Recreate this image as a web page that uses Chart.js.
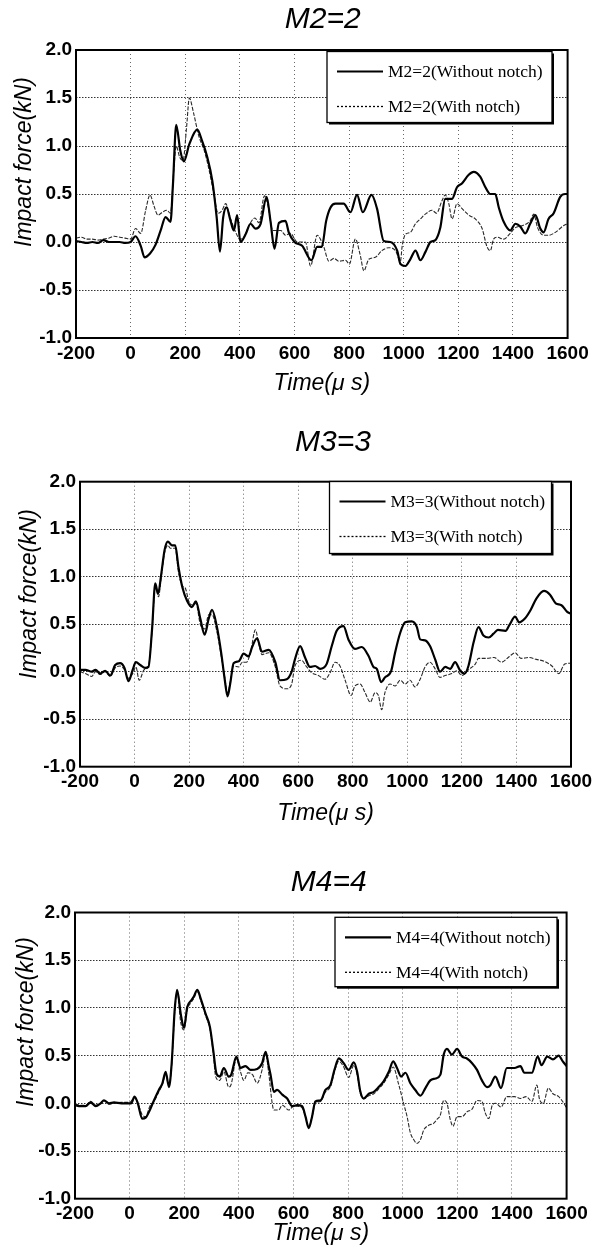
<!DOCTYPE html>
<html>
<head>
<meta charset="utf-8">
<script src="https://cdn.jsdelivr.net/npm/chart.js@4.4.1/dist/chart.umd.min.js"></script>
<style>
    html, body { margin: 0; padding: 0; background: #fff; }
    .panel { position: absolute; left: 0; width: 606px; }
</style>
</head>
<body>
<div class="panel" style="top:0;height:416px"><canvas id="chartM2"></canvas></div>
<div class="panel" style="top:416px;height:418px"><canvas id="chartM3"></canvas></div>
<div class="panel" style="top:834px;height:416px"><canvas id="chartM4"></canvas></div>
<script>
// axis ticks
const timeTicks = [-200, 0, 200, 400, 600, 800, 1000, 1200, 1400, 1600];
const forceTicks = [-1.0, -0.5, 0.0, 0.5, 1.0, 1.5, 2.0];

// M2=2
const m2WithoutTime = [-200,-180,-160,-140,-120,-100,-80,-60,-40,-20,0,18,37,51,71,91,110,128,146,155,167,182,195,215,244,262,280,299,315,327,339,351,366,378,390,402,421,439,457,476,498,512,527,543,567,579,600,628,662,683,700,716,732,750,780,805,829,850,882,902,927,951,976,988,1006,1024,1043,1061,1080,1098,1116,1134,1152,1177,1195,1213,1238,1256,1280,1299,1317,1335,1348,1366,1390,1409,1427,1445,1463,1482,1500,1512,1530,1549,1573,1591,1600];
const m2WithoutForce = [0.01,0.0,-0.01,0.0,-0.01,0.02,0.0,0.0,0.0,-0.01,0.0,0.06,-0.04,-0.16,-0.12,-0.03,0.12,0.26,0.21,0.6,1.22,0.95,0.84,1.02,1.17,1.05,0.89,0.64,0.26,-0.1,0.26,0.36,0.22,0.12,0.28,0.0,0.08,0.19,0.14,0.19,0.47,0.22,-0.07,0.2,0.22,0.1,0.0,-0.04,-0.19,-0.05,-0.05,0.22,0.36,0.4,0.4,0.31,0.49,0.31,0.49,0.35,0.01,0.0,-0.09,-0.23,-0.25,-0.18,-0.09,-0.19,-0.1,0.0,0.02,0.15,0.45,0.45,0.57,0.61,0.7,0.73,0.68,0.57,0.5,0.5,0.36,0.21,0.12,0.19,0.16,0.09,0.19,0.28,0.14,0.1,0.24,0.3,0.47,0.5,0.5];
const m2WithTime = [-200,-180,-160,-140,-120,-100,-80,-60,-40,-20,0,18,37,55,71,85,100,116,132,146,158,167,180,192,205,215,230,250,270,285,305,320,335,348,365,385,400,415,435,455,470,490,505,520,535,550,567,585,610,640,659,683,707,726,745,762,787,801,823,841,854,872,896,920,945,970,988,994,1006,1024,1043,1061,1079,1104,1120,1140,1152,1165,1177,1195,1213,1238,1262,1287,1305,1317,1329,1341,1366,1390,1409,1433,1463,1476,1490,1512,1530,1555,1585,1600];
const m2WithForce = [0.04,0.05,0.03,0.03,0.02,0.03,0.04,0.06,0.05,0.04,0.03,0.14,0.09,0.33,0.49,0.38,0.28,0.31,0.33,0.3,0.75,1.0,0.88,0.85,1.2,1.5,1.35,1.1,0.95,0.78,0.5,0.3,0.33,0.4,0.25,0.1,0.03,0.05,0.18,0.25,0.2,0.48,0.35,0.12,0.12,0.12,0.07,0.09,0.0,0.0,-0.25,0.07,-0.05,-0.2,-0.17,-0.2,-0.19,-0.23,0.03,-0.14,-0.3,-0.18,-0.16,-0.09,-0.06,-0.09,-0.2,-0.05,0.08,0.1,0.19,0.24,0.29,0.33,0.3,0.43,0.49,0.4,0.24,0.4,0.35,0.28,0.24,0.14,-0.05,-0.09,0.03,0.05,0.03,0.09,0.15,0.17,0.22,0.29,0.15,0.07,0.07,0.1,0.17,0.19];

// M3=3
const m3WithoutTime = [-200,-180,-157,-143,-126,-108,-89,-71,-53,-37,-22,-7,5,21,39,51,64,76,86,98,110,122,137,149,161,176,192,210,225,241,257,272,284,302,318,330,341,351,363,382,400,418,431,449,467,492,516,533,558,576,588,607,625,643,662,680,704,723,741,766,784,808,833,857,876,888,904,918,941,955,974,992,1016,1035,1047,1065,1083,1102,1120,1139,1157,1175,1194,1210,1224,1243,1261,1279,1298,1316,1332,1360,1374,1395,1410,1431,1452,1473,1501,1523,1544,1565,1586,1600];
const m3WithoutForce = [0.02,0.02,0,0.02,-0.02,0.01,-0.04,0.07,0.09,0.04,-0.1,0.02,0.1,0.07,0.04,0.05,0.44,0.93,0.82,1.03,1.28,1.37,1.33,1.33,1.1,0.88,0.75,0.68,0.74,0.56,0.39,0.56,0.65,0.47,0.19,-0.07,-0.26,-0.12,0.09,0.11,0.19,0.16,0.26,0.35,0.21,0.23,0.1,-0.09,-0.08,0,0.13,0.27,0.15,0.05,0.06,0.03,0.08,0.27,0.43,0.48,0.34,0.24,0.26,0.17,0.05,0.03,-0.11,-0.06,0.01,0.2,0.41,0.52,0.53,0.47,0.34,0.33,0.27,0.13,0,0.05,0.03,0.1,0.01,-0.02,0.06,0.31,0.47,0.38,0.36,0.4,0.44,0.43,0.49,0.58,0.52,0.56,0.65,0.77,0.85,0.81,0.72,0.7,0.63,0.61];
const m3WithTime = [-200,-180,-157,-143,-126,-108,-89,-71,-53,-37,-22,-7,5,17,35,51,64,76,88,98,110,122,131,149,161,176,186,200,215,225,241,257,272,284,302,318,330,341,351,363,382,395,410,425,443,455,467,492,516,533,558,576,588,612,631,649,674,698,717,735,753,772,794,808,827,845,864,882,894,906,918,937,955,974,992,1010,1028,1047,1065,1083,1102,1120,1139,1163,1181,1200,1224,1249,1261,1290,1318,1345,1374,1395,1417,1445,1473,1501,1530,1555,1577,1600];
const m3WithForce = [0.0,-0.02,-0.05,0.0,-0.03,0.0,-0.05,0.04,0.06,0.02,-0.07,-0.02,0.05,-0.09,0.02,0.06,0.42,0.9,0.79,1.0,1.25,1.33,1.3,1.3,1.05,0.9,0.88,0.73,0.7,0.72,0.5,0.45,0.6,0.6,0.42,0.16,-0.05,-0.23,-0.1,0.06,0.05,0.1,0.1,0.2,0.44,0.3,0.18,0.2,0.05,-0.15,-0.18,-0.13,0.06,0.12,0.05,-0.01,-0.04,-0.08,-0.01,0.1,0.06,-0.09,-0.25,-0.15,-0.13,-0.22,-0.32,-0.22,-0.25,-0.4,-0.22,-0.13,-0.15,-0.09,-0.13,-0.09,-0.16,-0.08,0.05,0.1,0.03,-0.06,-0.04,-0.02,0.01,-0.04,0.02,0.08,0.14,0.14,0.15,0.1,0.16,0.2,0.14,0.15,0.13,0.11,0.06,-0.02,0.08,0.09];

// M4=4
const m4WithoutTime = [-200,-180,-161,-143,-124,-106,-94,-75,-57,-30,0,6,18,30,46,59,71,89,107,120,132,144,154,165,174,187,199,211,226,235,248,260,278,294,306,318,330,345,363,372,391,406,424,443,467,485,498,510,516,528,540,559,577,595,613,632,644,656,668,680,699,717,735,750,766,784,802,821,833,845,857,876,894,912,930,949,965,979,994,1010,1028,1046,1065,1083,1101,1120,1138,1150,1162,1180,1199,1217,1235,1254,1272,1290,1309,1321,1339,1360,1381,1409,1431,1445,1473,1494,1508,1529,1550,1571,1586,1600];
const m4WithoutForce = [-0.02,-0.03,-0.03,0.01,-0.03,0.0,0.03,0.0,0.01,0.0,0.0,0.0,0.07,0.0,-0.16,-0.15,-0.09,0.03,0.14,0.21,0.33,0.17,0.42,0.98,1.19,0.94,0.79,1.01,1.08,1.12,1.19,1.1,0.94,0.8,0.56,0.31,0.28,0.37,0.28,0.3,0.49,0.37,0.39,0.35,0.36,0.42,0.54,0.38,0.3,0.12,0.14,0.09,0.05,-0.03,-0.02,-0.03,-0.14,-0.26,-0.14,0.02,0.03,0.14,0.19,0.35,0.47,0.42,0.35,0.43,0.33,0.12,0.05,0.1,0.12,0.17,0.23,0.33,0.44,0.37,0.28,0.32,0.21,0.14,0.08,0.16,0.24,0.26,0.3,0.51,0.57,0.51,0.57,0.49,0.47,0.42,0.35,0.24,0.17,0.19,0.28,0.16,0.37,0.37,0.39,0.32,0.32,0.49,0.4,0.49,0.46,0.5,0.44,0.39];
const m4WithTime = [-200,-180,-161,-143,-124,-106,-94,-75,-57,-30,0,18,30,46,59,74,89,107,120,132,144,154,165,174,187,199,211,226,235,248,260,278,294,306,315,330,345,363,372,391,406,418,433,450,467,485,498,510,522,528,546,559,583,600,613,632,644,656,668,680,699,717,735,750,766,784,802,821,833,845,857,876,894,912,930,949,965,985,1003,1016,1028,1040,1052,1065,1077,1095,1113,1125,1138,1150,1162,1174,1184,1199,1217,1235,1254,1272,1290,1302,1315,1328,1340,1360,1381,1409,1431,1452,1473,1491,1501,1515,1533,1550,1571,1590,1600];
const m4WithForce = [-0.01,-0.02,-0.02,0.02,-0.02,0.0,0.03,-0.01,0.0,0.01,0.01,0.06,0.0,-0.12,-0.14,-0.03,0.02,0.12,0.2,0.3,0.18,0.4,0.95,1.17,0.85,0.77,0.98,1.06,1.1,1.17,1.08,0.92,0.78,0.53,0.28,0.24,0.33,0.17,0.2,0.47,0.33,0.24,0.32,0.3,0.21,0.35,0.52,0.3,0.0,-0.07,-0.07,-0.02,-0.07,-0.03,-0.03,-0.05,-0.14,-0.25,-0.14,0.0,0.02,0.12,0.17,0.33,0.44,0.38,0.27,0.4,0.3,0.1,0.05,0.08,0.1,0.15,0.21,0.3,0.38,0.2,0.0,-0.14,-0.31,-0.38,-0.42,-0.38,-0.28,-0.23,-0.21,-0.17,-0.12,0.03,0.0,-0.17,-0.24,-0.14,-0.14,-0.09,-0.06,0.03,0.02,-0.1,-0.16,-0.02,0.0,-0.04,0.07,0.07,0.05,0.07,0.02,0.19,0.04,0.0,0.16,0.1,0.07,0.0,-0.05];

const toPoints = (times, forces) => times.map((t, i) => ({ x: t, y: forces[i] }));

// frame, title, y title and boxed legend
const panelPlugin = {
    id: 'panel',
    afterDraw(chart, args, opts) {
        const { ctx, chartArea: a } = chart;
        ctx.save();
        ctx.strokeStyle = '#000';
        ctx.lineWidth = 2;
        ctx.strokeRect(a.left, a.top, a.right - a.left, a.bottom - a.top);

        ctx.fillStyle = '#000';
        ctx.textAlign = 'center';
        ctx.textBaseline = 'middle';
        ctx.font = 'italic 30px "Liberation Sans"';
        ctx.fillText(opts.title, (a.left + a.right) / 2 + opts.titleDx, opts.titleY);

        ctx.save();
        ctx.translate(opts.yTitleX, opts.yTitleY);
        ctx.rotate(-Math.PI / 2);
        ctx.font = 'italic 23px "Liberation Sans"';
        ctx.fillText('Impact force(kN)', 0, 0);
        ctx.restore();

        const L = opts.legend;
        ctx.fillStyle = '#000';
        ctx.fillRect(L.x + 2, L.y + 2, L.w, L.h);
        ctx.fillStyle = '#fff';
        ctx.fillRect(L.x, L.y, L.w, L.h);
        ctx.lineWidth = 1.3;
        ctx.strokeRect(L.x, L.y, L.w, L.h);

        ctx.textAlign = 'left';
        ctx.font = '17.5px "Liberation Serif"';
        chart.data.datasets.forEach((ds, i) => {
            const ry = L.y + 20 + i * 35;
            ctx.strokeStyle = '#000';
            ctx.lineWidth = i === 0 ? 2.2 : 1.3;
            ctx.setLineDash(i === 0 ? [] : [2, 2]);
            ctx.beginPath();
            ctx.moveTo(L.x + 10, ry);
            ctx.lineTo(L.x + 56, ry);
            ctx.stroke();
            ctx.setLineDash([]);
            ctx.fillStyle = '#000';
            ctx.fillText(ds.label, L.x + 61, ry + 1);
        });
        ctx.restore();
    }
};

function makeChart(id, name, without, withN, g) {
    return new Chart(document.getElementById(id), {
        type: 'line',
        data: {
            datasets: [
                {
                    label: name + '(Without notch)', data: without,
                    borderColor: '#000', borderWidth: 2.2, pointRadius: 0,
                    cubicInterpolationMode: 'monotone'
                },
                {
                    label: name + '(With notch)', data: withN,
                    borderColor: '#2a2a2a', borderWidth: 1.1, borderDash: [4, 1.5], pointRadius: 0,
                    cubicInterpolationMode: 'monotone'
                }
            ]
        },
        options: {
            responsive: true, maintainAspectRatio: false, animation: false,
            layout: { padding: { left: 0, top: g.top, right: 606 - g.right, bottom: 0 } },
            plugins: {
                legend: { display: false }, tooltip: { enabled: false },
                panel: g
            },
            scales: {
                x: {
                    type: 'linear', min: timeTicks[0], max: timeTicks[timeTicks.length - 1],
                    afterFit: s => { s.height = g.height - g.bottom; },
                    ticks: {
                        stepSize: 200, autoSkip: false, maxRotation: 0, padding: 4,
                        callback: v => String(v),
                        color: '#000', font: { family: 'Liberation Sans', size: 19, weight: 'bold' }
                    },
                    grid: {
                        drawTicks: false, lineWidth: 1,
                        color: c => (c.tick.value <= timeTicks[0] || c.tick.value >= timeTicks[timeTicks.length - 1]) ? 'rgba(0,0,0,0)' : '#666'
                    },
                    border: { display: false, dash: [1, 3] },
                    title: {
                        display: true, text: 'Time(μ s)', color: '#000',
                        font: { family: 'Liberation Sans', size: 23, style: 'italic' },
                        padding: { top: 0, bottom: g.height - g.xTitleY - 14 }
                    }
                },
                y: {
                    min: forceTicks[0], max: forceTicks[forceTicks.length - 1],
                    afterFit: s => { s.width = g.left; },
                    ticks: {
                        stepSize: 0.5, padding: 4, color: '#000',
                        callback: v => Number(v).toFixed(1),
                        font: { family: 'Liberation Sans', size: 19, weight: 'bold' }
                    },
                    grid: {
                        drawTicks: false, lineWidth: 1,
                        color: c => (c.tick.value <= forceTicks[0] || c.tick.value >= forceTicks[forceTicks.length - 1]) ? 'rgba(0,0,0,0)' : '#333'
                    },
                    border: { display: false, dash: [1.5, 1.5] }
                }
            }
        },
        plugins: [panelPlugin]
    });
}

makeChart('chartM2', 'M2=2',
    toPoints(m2WithoutTime, m2WithoutForce), toPoints(m2WithTime, m2WithForce),
    { title: 'M2=2', height: 416, top: 50, bottom: 338, left: 76, right: 567.6,
      titleDx: 1, titleY: 20, xTitleY: 383, yTitleX: 25, yTitleY: 162,
      legend: { x: 327, y: 51.5, w: 225, h: 71 } });

makeChart('chartM3', 'M3=3',
    toPoints(m3WithoutTime, m3WithoutForce), toPoints(m3WithTime, m3WithForce),
    { title: 'M3=3', height: 418, top: 65.7, bottom: 350.7, left: 80, right: 571,
      titleDx: 7.5, titleY: 27, xTitleY: 397, yTitleX: 30, yTitleY: 178,
      legend: { x: 329.5, y: 65.5, w: 222, h: 72 } });

makeChart('chartM4', 'M4=4',
    toPoints(m4WithoutTime, m4WithoutForce), toPoints(m4WithTime, m4WithForce),
    { title: 'M4=4', height: 416, top: 78.5, bottom: 364.7, left: 75, right: 566.6,
      titleDx: 8, titleY: 49, xTitleY: 399, yTitleX: 27, yTitleY: 188,
      legend: { x: 335, y: 83.3, w: 222, h: 69.4 } });
</script>
</body>
</html>
